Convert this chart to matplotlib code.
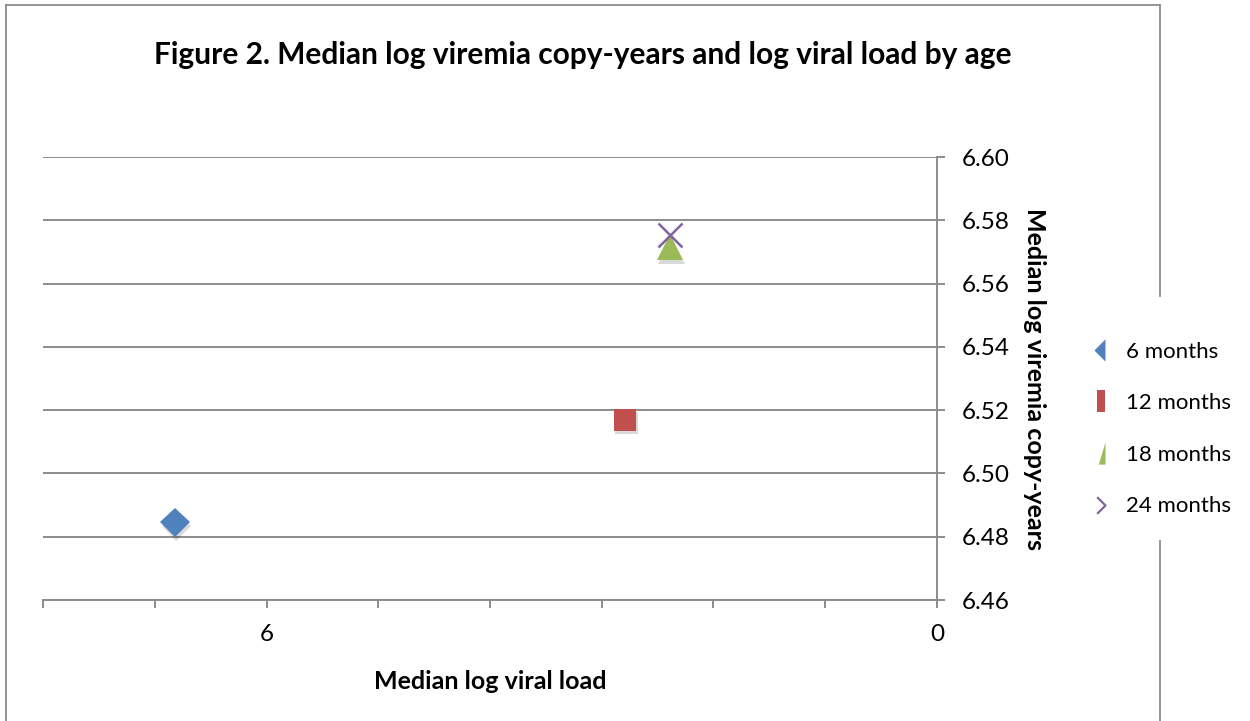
import matplotlib
matplotlib.use("Agg")
import matplotlib.pyplot as plt
import matplotlib.patheffects as pe
from matplotlib.lines import Line2D
from matplotlib.path import Path
from matplotlib.ticker import FixedLocator, MultipleLocator, FormatStrFormatter

plt.rcParams['font.family'] = ['Lato', 'DejaVu Sans']

# Data: median log viral load (x) vs median log viremia copy-years (y) by age
ages = ["6 months", "12 months", "18 months", "24 months"]
viral_load = [6.82, 2.79, 2.39, 2.39]
copy_years = [6.4845, 6.517, 6.5715, 6.5755]

colors = ["#4F81BD", "#C0504D", "#9BBB59", "#8064A2"]
markers = ["D", "s", "^", "x"]
sizes = [15, 16, 19, 17]

fig = plt.figure(figsize=(12.5, 7.21), dpi=100)
ax = fig.add_axes([0.0344, 0.1678, 0.7152, 0.6144])

shadow = [pe.SimplePatchShadow(offset=(1, -2.5), shadow_rgbFace="black", alpha=0.15), pe.Normal()]

for x, y, c, m, s, lab in zip(viral_load, copy_years, colors, markers, sizes, ages):
    kw = dict(color=c, markersize=s, linestyle="none", label=lab, zorder=3)
    if m == "x":
        ax.plot([x], [y], marker=m, markeredgewidth=1.8, **kw)
    else:
        ax.plot([x], [y], marker=m, markeredgewidth=0, path_effects=shadow, **kw)

ax.set_xlim(8, 0)
ax.set_ylim(6.46, 6.60)
ax.xaxis.set_major_locator(FixedLocator([6, 0]))
ax.xaxis.set_minor_locator(MultipleLocator(1))
ax.yaxis.set_major_locator(MultipleLocator(0.02))
ax.yaxis.set_major_formatter(FormatStrFormatter("%.2f"))

grid_col = "#8C8C8C"
ax.grid(axis="y", color=grid_col, linewidth=1.4)
ax.set_axisbelow(True)
for side in ["top", "left"]:
    ax.spines[side].set_visible(False)
for side in ["bottom", "right"]:
    ax.spines[side].set_color(grid_col)
    ax.spines[side].set_linewidth(1.4)

ax.yaxis.tick_right()
ax.yaxis.set_label_position("right")
ax.tick_params(axis="y", which="major", direction="out", length=6, width=1.4,
               color=grid_col, labelsize=17.5, pad=12)
ax.tick_params(axis="x", which="both", direction="out", length=5.5, width=1.4,
               color=grid_col, labelsize=17.5, pad=12)

ax.set_xlabel("Median log viral load", fontsize=18, fontweight="bold", labelpad=18)
ax.set_ylabel("Median log viremia copy-years", fontsize=18, fontweight="bold",
              rotation=-90, labelpad=26)

fig.text(0.466, 0.924, "Figure 2. Median log viremia copy-years and log viral load by age",
         ha="center", va="center", fontsize=21.5, fontweight="bold")

# Outer chart border (partly hidden behind the legend on the right)
border = "#8C8C8C"
fig.add_artist(Line2D([0.005, 0.005], [0.0, 0.993], color=border, lw=1.3))
fig.add_artist(Line2D([0.005, 0.928], [0.993, 0.993], color=border, lw=1.3))
fig.add_artist(Line2D([0.928, 0.928], [0.993, 0.59], color=border, lw=1.3))
fig.add_artist(Line2D([0.928, 0.928], [0.25, 0.0], color=border, lw=1.3))

# Legend keys show only the left half of each marker
half_diamond = Path([(0, 1), (-1, 0), (0, -1), (0, 1)],
                    [Path.MOVETO, Path.LINETO, Path.LINETO, Path.CLOSEPOLY])
half_square = Path([(-0.75, -1), (0, -1), (0, 1), (-0.75, 1), (-0.75, -1)],
                   [Path.MOVETO, Path.LINETO, Path.LINETO, Path.LINETO, Path.CLOSEPOLY])
half_triangle = Path([(0, 1), (-0.6, -1), (0, -1), (0, 1)],
                     [Path.MOVETO, Path.LINETO, Path.LINETO, Path.CLOSEPOLY])
half_x = Path([(-1, 1), (0, 0), (-1, -1)], [Path.MOVETO, Path.LINETO, Path.LINETO])

key_shapes = [half_diamond, half_square, half_triangle, half_x]
handles = []
for c, shape, m in zip(colors, key_shapes, markers):
    if m == "x":
        handles.append(Line2D([], [], marker=shape, linestyle="none", markersize=12,
                              markerfacecolor="none", markeredgecolor=c, markeredgewidth=1.6))
    else:
        handles.append(Line2D([], [], marker=shape, linestyle="none", markersize=16,
                              markerfacecolor=c, markeredgewidth=0))

fig.legend(handles, ages, loc="center left", bbox_to_anchor=(0.857, 0.405),
           frameon=False, fontsize=16, handletextpad=0.35, labelspacing=1.42,
           handlelength=1.2)

fig.savefig("out.png", dpi=100)
